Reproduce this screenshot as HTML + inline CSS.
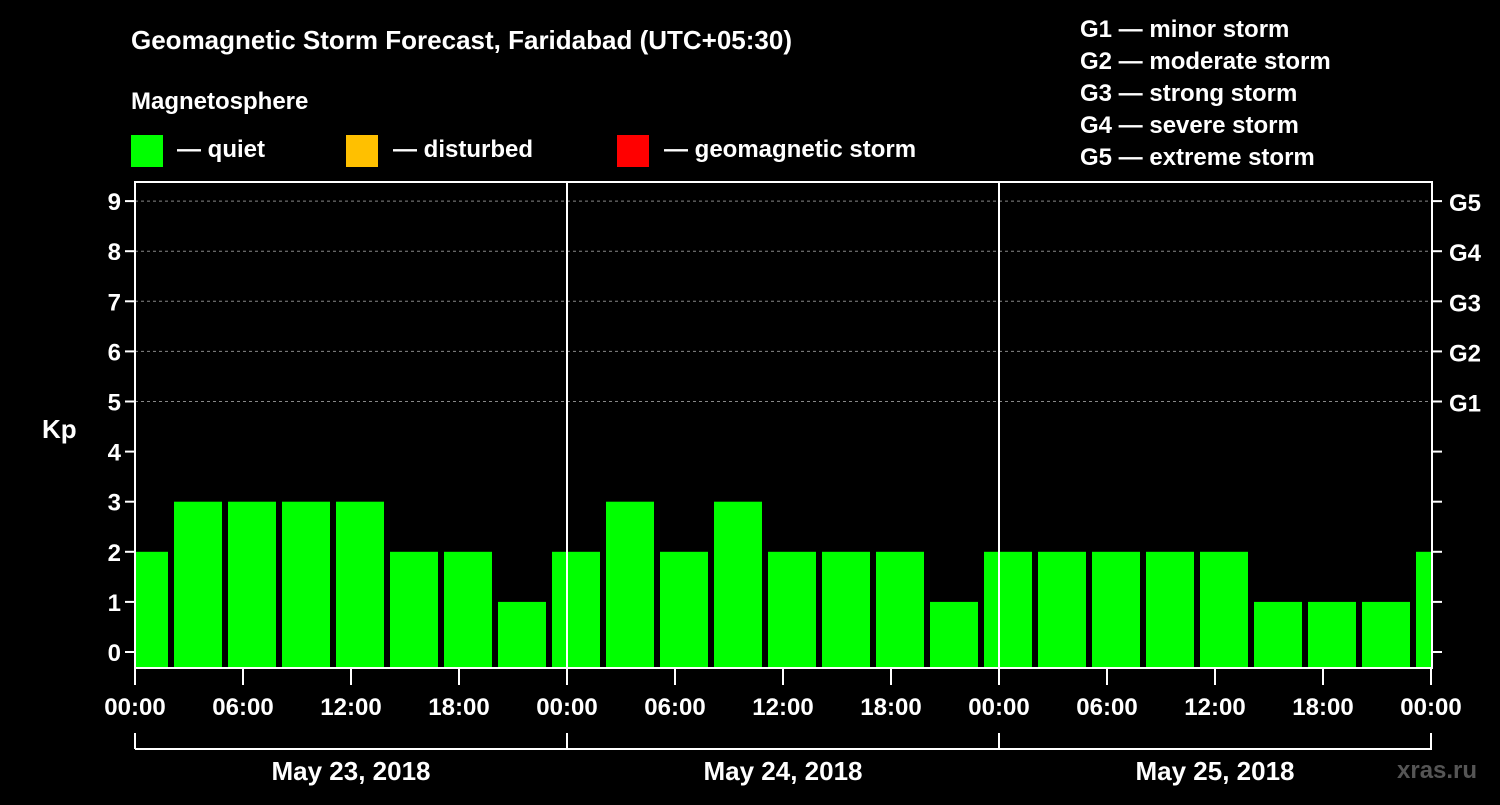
<!DOCTYPE html>
<html><head><meta charset="utf-8"><style>
body{margin:0;background:#000;width:1500px;height:800px;overflow:hidden}
svg{font-family:"Liberation Sans",sans-serif;font-weight:bold}
</style></head><body>
<svg id="c" width="1500" height="800" xmlns="http://www.w3.org/2000/svg">
<rect width="1500" height="800" fill="#000"/>
<text x="131" y="49" fill="#fff" font-size="26">Geomagnetic Storm Forecast, Faridabad (UTC+05:30)</text>
<text x="131" y="109" fill="#fff" font-size="24">Magnetosphere</text>
<g><rect x="131" y="135" width="32" height="32" fill="#00ff00"/><text x="177" y="157" fill="#fff" font-size="24">— quiet</text></g>
<g><rect x="346" y="135" width="32" height="32" fill="#ffc000"/><text x="393" y="157" fill="#fff" font-size="24">— disturbed</text></g>
<g><rect x="617" y="135" width="32" height="32" fill="#ff0000"/><text x="664" y="157" fill="#fff" font-size="24">— geomagnetic storm</text></g>
<g fill="#fff" font-size="24">
<text x="1080" y="37">G1 — minor storm</text><text x="1080" y="69">G2 — moderate storm</text><text x="1080" y="101">G3 — strong storm</text><text x="1080" y="133">G4 — severe storm</text><text x="1080" y="165">G5 — extreme storm</text></g>
<text x="42" y="438" fill="#fff" font-size="26">Kp</text>
<text x="1397" y="778" fill="#555" font-size="24">xras.ru</text>
<defs><clipPath id="pc"><rect x="135" y="182" width="1297" height="486"/></clipPath></defs>
<g id="grid"></g><g id="bars" clip-path="url(#pc)"></g><g id="axes"></g>
</svg>
<script>
const kpValues=[2,3,3,3,3,2,2,1,2,3,2,3,2,2,2,1,2,2,2,2,2,1,1,1,2];
const dayLabels=["May 23, 2018","May 24, 2018","May 25, 2018"];
const hourLabels=["00:00","06:00","12:00","18:00"];
const gLabels=["G1","G2","G3","G4","G5"];
const X0=135,PX_H=18,Y0=652,PX_K=50.1,BOT=668,TOP=182,R=1432;
const xs=h=>X0+h*PX_H, ys=k=>Y0-k*PX_K;
const NS="http://www.w3.org/2000/svg";
function mk(p,t,a){const e=document.createElementNS(NS,t);for(const k in a)e.setAttribute(k,a[k]);p.appendChild(e);return e;}
const grid=document.getElementById('grid'),bars=document.getElementById('bars'),axes=document.getElementById('axes');
for(let k=5;k<=9;k++){const l=mk(grid,'line',{x1:X0,x2:R,y1:ys(k),y2:ys(k),stroke:'#888','stroke-dasharray':'3,3','stroke-width':1});

}
kpValues.forEach((v,i)=>{const s=-1+3*i;const x=xs(s)+3;const y=ys(v);
const r=mk(bars,'rect',{x:x,y:y,width:3*PX_H-6,height:BOT-y,fill:v>=5?'#ff0000':(v>=4?'#ffc000':'#00ff00')});

});
mk(axes,'rect',{x:X0,y:TOP,width:R-X0,height:BOT-TOP,fill:'none',stroke:'#fff','stroke-width':2});
for(let k=0;k<=9;k++){const y=ys(k);
mk(axes,'line',{x1:X0-10,x2:X0,y1:y,y2:y,stroke:'#fff','stroke-width':2});
mk(axes,'line',{x1:R,x2:R+10,y1:y,y2:y,stroke:'#fff','stroke-width':2});
const t=mk(axes,'text',{x:X0-14,y:y+9,fill:'#fff','font-size':24,'text-anchor':'end'});t.textContent=k;

}
gLabels.forEach((g,i)=>{const t=mk(axes,'text',{x:R+17,y:ys(5+i)+10,fill:'#fff','font-size':24});t.textContent=g;

});
for(let d=1;d<3;d++){mk(axes,'line',{x1:xs(24*d),x2:xs(24*d),y1:TOP,y2:BOT,stroke:'#fff','stroke-width':2});}
for(let h=0;h<=72;h+=6){const x=xs(h);
mk(axes,'line',{x1:x,x2:x,y1:BOT,y2:BOT+17,stroke:'#fff','stroke-width':2});
const t=mk(axes,'text',{x:x,y:715,fill:'#fff','font-size':24,'text-anchor':'middle'});t.textContent=hourLabels[(h/6)%4];

}
mk(axes,'line',{x1:X0,x2:R,y1:749,y2:749,stroke:'#fff','stroke-width':2});
for(let d=0;d<=3;d++)mk(axes,'line',{x1:xs(24*d),x2:xs(24*d),y1:733,y2:749,stroke:'#fff','stroke-width':2});
dayLabels.forEach((s,d)=>{const t=mk(axes,'text',{x:xs(24*d+12),y:780,fill:'#fff','font-size':26,'text-anchor':'middle'});t.textContent=s;

});
</script>
</body></html>
